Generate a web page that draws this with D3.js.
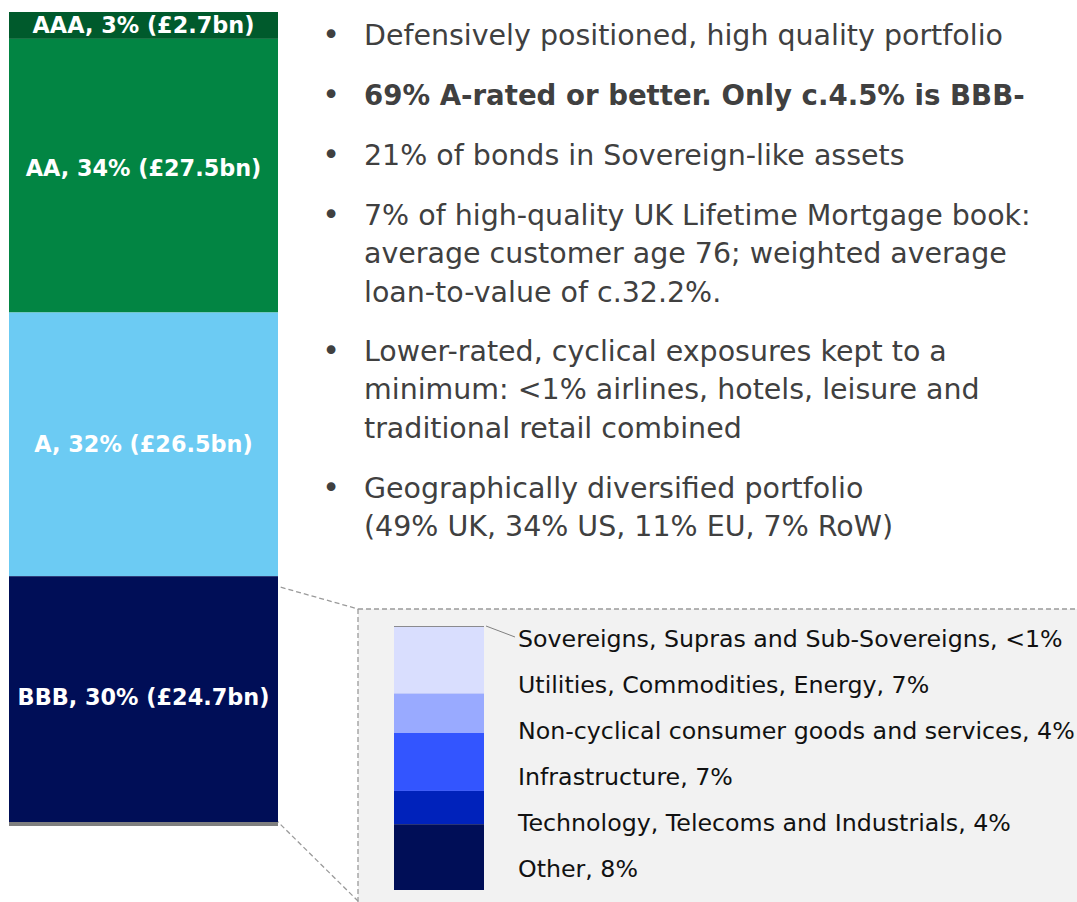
<!DOCTYPE html>
<html>
<head>
<meta charset="utf-8">
<script src="https://cdn.jsdelivr.net/npm/d3@7"></script>
<style>
  html, body { margin: 0; padding: 0; background: #ffffff; }
  svg { display: block; }
  text { font-family: "DejaVu Sans", sans-serif; }
</style>
</head>
<body>
<svg id="chart" width="1077" height="902"></svg>
<script>
// ---- Data ----
const ratings = ["AAA", "AA", "A", "BBB"];
const ratingPct = [3, 34, 32, 30];
const ratingBn = [2.7, 27.5, 26.5, 24.7];
const ratingColors = ["#005a2c", "#028543", "#6ccbf3", "#000e57"];

const sectors = ["Sovereigns, Supras and Sub-Sovereigns, <1%", "Utilities, Commodities, Energy, 7%",
  "Non-cyclical consumer goods and services, 4%", "Infrastructure, 7%",
  "Technology, Telecoms and Industrials, 4%", "Other, 8%"];
const sectorValues = [0.1, 7.6, 4.5, 6.6, 3.8, 7.5];
const sectorColors = ["#808080", "#d9defe", "#99aaff", "#3355ff", "#0022bb", "#000e57"];

const bullets = [
  { lines: ["Defensively positioned, high quality portfolio"], bold: false },
  { lines: ["69% A-rated or better. Only c.4.5% is BBB-"], bold: true },
  { lines: ["21% of bonds in Sovereign-like assets"], bold: false },
  { lines: ["7% of high-quality UK Lifetime Mortgage book:", "average customer age 76; weighted average", "loan-to-value of c.32.2%."], bold: false },
  { lines: ["Lower-rated, cyclical exposures kept to a", "minimum: <1% airlines, hotels, leisure and", "traditional retail combined"], bold: false },
  { lines: ["Geographically diversified portfolio", "(49% UK, 34% US, 11% EU, 7% RoW)"], bold: false }
];

// ---- Layout ----
const svg = d3.select("#chart");

// size a font so that a reference string spans a target width
function fitSize(str, weight, target) {
  const t = svg.append("text").attr("font-size", 100).attr("font-weight", weight).text(str);
  const w = t.node().getComputedTextLength();
  t.remove();
  return 100 * target / w;
}
const bulletSize = fitSize("Defensively positioned, high quality portfolio", "normal", 639);
const bulletBoldSize = fitSize("69% A-rated or better. Only c.4.5% is BBB-", "bold", 661);
const barLabelSize = fitSize("BBB, 30% (£24.7bn)", "bold", 252);
const insetSize = fitSize("Non-cyclical consumer goods and services, 4%", "normal", 557);

// main stacked bar
const total = d3.sum(ratingBn);
const y = d3.scaleLinear().domain([0, total]).range([12, 822]);
const x = d3.scaleBand().domain(["bar"]).range([9, 278]).padding(0);
let cum = 0;
const segs = ratings.map((r, i) => {
  const s = { name: r, pct: ratingPct[i], bn: ratingBn[i], color: ratingColors[i], y0: cum, y1: cum + ratingBn[i] };
  cum += ratingBn[i];
  return s;
});

// dashed connectors + inset box
const insetLeft = 358, insetTop = 609;
svg.append("rect").attr("x", insetLeft).attr("y", insetTop).attr("width", 1077 - insetLeft).attr("height", 902 - insetTop)
  .attr("fill", "#f2f2f2");
function dashed(pts) {
  svg.append("path").attr("d", d3.line()(pts))
    .attr("stroke", "#9a9a9a").attr("stroke-width", 1.3).attr("stroke-dasharray", "5,3").attr("fill", "none");
}
dashed([[273, 585], [insetLeft, insetTop]]);
dashed([[insetLeft, insetTop], [1077, insetTop]]);
dashed([[insetLeft, insetTop], [insetLeft, 902]]);
dashed([[275, 819], [insetLeft, 901]]);

svg.append("g").selectAll("rect").data(segs).join("rect")
  .attr("x", x("bar")).attr("width", x.bandwidth())
  .attr("y", d => y(d.y0)).attr("height", d => y(d.y1) - y(d.y0))
  .attr("fill", d => d.color);
svg.append("rect").attr("x", x("bar")).attr("width", x.bandwidth())
  .attr("y", y(total)).attr("height", 4).attr("fill", "#7f7f7f");

const labelShift = [0, -8, 0, -2];
svg.append("g").selectAll("text").data(segs).join("text")
  .attr("x", x("bar") + x.bandwidth() / 2)
  .attr("y", (d, i) => (y(d.y0) + y(d.y1)) / 2 + labelShift[i])
  .attr("text-anchor", "middle").attr("dominant-baseline", "central")
  .attr("fill", "#ffffff").attr("font-weight", "bold").attr("font-size", barLabelSize)
  .text(d => `${d.name}, ${d.pct}% (£${d.bn}bn)`);

// bullets
const bulletTops = [45, 105, 165, 225, 361, 498];
const lineH = 38.3;
const bg = svg.append("g");
bullets.forEach((b, i) => {
  bg.append("text").attr("x", 331).attr("y", bulletTops[i]).attr("font-size", 30).attr("fill", "#404040")
    .attr("text-anchor", "middle").text("•");
  b.lines.forEach((l, j) => {
    bg.append("text").attr("x", 364).attr("y", bulletTops[i] + j * lineH)
      .attr("font-size", b.bold ? bulletBoldSize : bulletSize).attr("fill", "#404040")
      .attr("font-weight", b.bold ? "bold" : "normal")
      .text(l);
  });
});

// inset stacked bar
const insetTotal = d3.sum(sectorValues);
const yi = d3.scaleLinear().domain([0, insetTotal]).range([626, 890]);
let c2 = 0;
const isegs = sectorValues.map((v, i) => { const s = { v, y0: c2, y1: c2 + v, color: sectorColors[i], label: sectors[i] }; c2 += v; return s; });
svg.append("g").selectAll("rect").data(isegs).join("rect")
  .attr("x", 394).attr("width", 90)
  .attr("y", d => yi(d.y0)).attr("height", d => Math.max(1, yi(d.y1) - yi(d.y0)))
  .attr("fill", d => d.color);
svg.append("line").attr("x1", 486).attr("y1", yi(0)).attr("x2", 515).attr("y2", 637)
  .attr("stroke", "#808080").attr("stroke-width", 1);
const labelY = d3.scalePoint().domain(sectors).range([647, 877]);
svg.append("g").selectAll("text").data(sectors).join("text")
  .attr("x", 518).attr("y", d => labelY(d))
  .attr("font-size", insetSize).attr("fill", "#111111").text(d => d);
</script>
</body>
</html>
